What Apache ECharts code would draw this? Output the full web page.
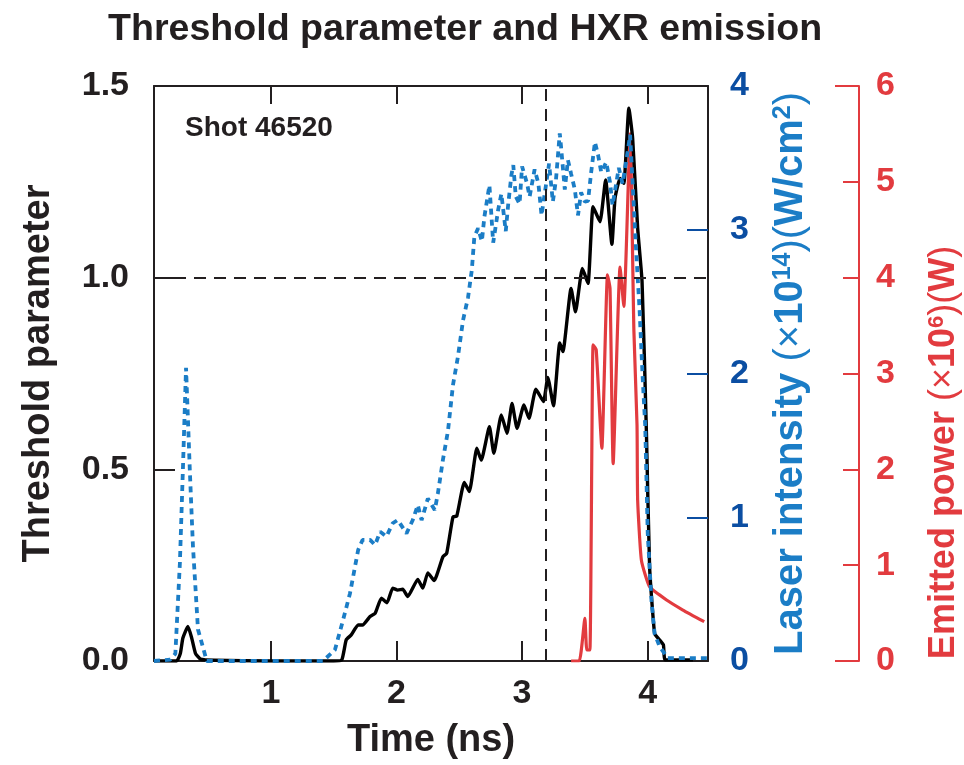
<!DOCTYPE html>
<html>
<head>
<meta charset="utf-8">
<script src="https://cdn.jsdelivr.net/npm/echarts@6/dist/echarts.min.js"></script>
<style>html,body{margin:0;padding:0;background:#fff}#c{width:964px;height:765px}</style>
</head>
<body>
<div id="c"></div>
<script>
// ---- data (time in ns) ----
const blackT = [0.07,0.25,0.28,0.30,0.34,0.37,0.40,0.44,0.55,1.0,1.50,1.565,1.60,1.64,1.695,1.73,1.79,1.83,1.88,1.925,1.97,2.01,2.05,2.09,2.17,2.21,2.25,2.30,2.37,2.40,2.45,2.48,2.54,2.58,2.64,2.675,2.74,2.775,2.835,2.88,2.92,2.96,3.015,3.055,3.11,3.17,3.205,3.25,3.30,3.325,3.39,3.425,3.48,3.525,3.565,3.62,3.665,3.715,3.74,3.78,3.81,3.85,3.88,3.92,3.955,3.99,4.015,4.055,4.095,4.125,4.14,4.36];
const blackV = [0.0,0.0,0.02,0.06,0.09,0.06,0.02,0.005,0.002,0.0,0.0,0.003,0.055,0.068,0.094,0.094,0.116,0.124,0.164,0.152,0.19,0.185,0.187,0.168,0.213,0.19,0.23,0.21,0.272,0.281,0.376,0.378,0.466,0.442,0.555,0.524,0.611,0.542,0.642,0.594,0.672,0.607,0.668,0.633,0.709,0.677,0.74,0.666,0.83,0.807,0.972,0.911,1.024,0.985,1.185,1.146,1.255,1.087,1.207,1.259,1.246,1.442,1.364,1.129,0.99,0.594,0.246,0.072,0.055,0.042,0.003,0.003];

const blueT = [0.07,0.20,0.24,0.276,0.30,0.325,0.355,0.38,0.42,0.49,1.0,1.415,1.51,1.575,1.63,1.67,1.695,1.73,1.79,1.83,1.87,1.92,1.97,2.01,2.08,2.13,2.17,2.20,2.25,2.305,2.33,2.37,2.41,2.45,2.49,2.53,2.57,2.60,2.62,2.65,2.68,2.70,2.74,2.77,2.81,2.835,2.87,2.89,2.915,2.93,2.95,2.98,3.00,3.04,3.06,3.10,3.13,3.155,3.19,3.215,3.245,3.27,3.30,3.31,3.34,3.365,3.39,3.42,3.445,3.47,3.50,3.525,3.55,3.58,3.605,3.63,3.67,3.70,3.72,3.77,3.80,3.84,3.86,3.885,3.91,3.935,3.96,3.98,4.00,4.03,4.055,4.095,4.16,4.48];
const blueV = [0.0,0.01,0.05,0.68,1.33,2.04,1.33,0.80,0.22,0.0,0.0,0.0,0.077,0.285,0.47,0.656,0.772,0.842,0.842,0.807,0.90,0.865,0.958,0.981,0.888,0.981,1.085,0.98,1.13,1.05,1.167,1.40,1.60,1.92,2.12,2.37,2.53,2.72,2.95,3.01,2.92,3.09,3.31,2.91,3.14,3.25,2.99,3.18,3.38,3.45,3.23,3.18,3.44,3.32,3.23,3.42,3.32,3.10,3.31,3.46,3.195,3.35,3.67,3.58,3.28,3.485,3.39,3.28,3.10,3.26,3.195,3.20,3.40,3.61,3.52,3.40,3.47,3.33,3.17,3.43,3.32,3.54,3.66,3.24,2.82,2.45,1.97,1.64,0.89,0.42,0.19,0.10,0.02,0.02];

const redT = [3.39,3.455,3.50,3.515,3.54,3.565,3.59,3.635,3.68,3.70,3.725,3.78,3.81,3.86,3.89,3.915,3.92,3.95,4.015,4.15,4.28,4.45];
const redV = [0.0,0.0,0.445,0.115,0.115,3.30,3.25,2.22,4.03,3.89,2.06,4.11,3.70,5.50,3.45,2.46,1.68,1.05,0.775,0.636,0.532,0.41];

const xTicks = [1,2,3,4];
const leftTicks = [0.5,1.0];
const blueTicks = [1,2,3];
const redTicks = [1,2,3,4,5];
const redEndTicks = [0,6];
const thresholdLevel = 1.0;
const markTime = 3.19;

const pairs = (a,b) => a.map((t,i)=>[t,b[i]]);

const FONT = '"Liberation Sans", Arial, Helvetica, sans-serif';
const DARK = '#231f20';
const BLUE_DARK = '#0b4ea2';
const BLUE = '#1b7dc6';
const RED = '#e23b3f';

const chart = echarts.init(document.getElementById('c'), null, {renderer:'canvas'});
const lbl = (color) => ({fontSize:34, fontWeight:'bold', color, fontFamily:FONT});
const richName = (color, fs) => ({
  b:{fontSize:fs, fontWeight:'bold', color, fontFamily:FONT},
  n:{fontSize:fs, fontWeight:'normal', color, fontFamily:FONT},
  s:{fontSize:Math.round(fs*0.62), fontWeight:'bold', color, fontFamily:FONT, verticalAlign:'top'}
});

chart.setOption({
  animation:false,
  backgroundColor:'#fff',
  textStyle:{fontFamily:FONT},
  title:{
    text:'Threshold parameter and HXR emission',
    left:103, top:6,
    textStyle:{fontSize:37.6, fontWeight:'bold', color:DARK, fontFamily:FONT}
  },
  graphic:[{
    type:'text', left:185, top:114,
    style:{text:'Shot 46520', font:'bold 28px "Liberation Sans", Arial, sans-serif', fill:DARK}
  }],
  grid:{left:154, right:256, top:86, bottom:104, containLabel:false, outerBoundsMode:'none'},
  xAxis:[{
    type:'value', position:'bottom', min:0.07, max:4.48,
    axisLine:{show:true, onZero:false, lineStyle:{color:DARK, width:2}},
    axisTick:{show:true, inside:true, length:20, customValues:xTicks, lineStyle:{color:DARK, width:2}},
    axisLabel:Object.assign({customValues:xTicks, margin:16}, lbl(DARK)),
    splitLine:{show:false},
    name:'Time (ns)', nameLocation:'middle', nameGap:61,
    nameTextStyle:{fontSize:38, fontWeight:'bold', color:DARK, fontFamily:FONT}
  },{
    type:'value', position:'top', min:0.07, max:4.48,
    axisLine:{show:true, onZero:false, lineStyle:{color:DARK, width:2}},
    axisTick:{show:true, inside:true, length:18, customValues:xTicks, lineStyle:{color:DARK, width:2}},
    axisLabel:{show:false}, splitLine:{show:false}
  }],
  yAxis:[{
    type:'value', position:'left', min:0, max:1.5, interval:0.5,
    axisLine:{show:true, onZero:false, lineStyle:{color:DARK, width:2}},
    axisTick:{show:true, inside:true, length:21, customValues:leftTicks, lineStyle:{color:DARK, width:2}},
    axisLabel:Object.assign({margin:25, formatter:v=>v.toFixed(1)}, lbl(DARK)),
    splitLine:{show:false},
    name:'Threshold parameter', nameLocation:'middle', nameGap:96, nameRotate:90,
    nameTextStyle:{fontSize:38, fontWeight:'bold', color:DARK, fontFamily:FONT}
  },{
    type:'value', position:'right', min:0, max:4, interval:1,
    axisLine:{show:true, onZero:false, lineStyle:{color:DARK, width:2}},
    axisTick:{show:true, inside:true, length:21, customValues:blueTicks, lineStyle:{color:BLUE_DARK, width:2}},
    axisLabel:Object.assign({margin:22}, lbl(BLUE_DARK)),
    splitLine:{show:false},
    name:'{b|Laser intensity }{n|(×}{b|10}{s|14}{n|)(}{b|W/cm}{s|2}{n|)}',
    nameLocation:'middle', nameGap:63, nameRotate:90,
    nameTextStyle:{color:BLUE, rich:richName(BLUE, 40)}
  },{
    type:'value', position:'right', offset:151, min:0, max:6, interval:1,
    axisLine:{show:true, onZero:false, lineStyle:{color:RED, width:2}},
    axisTick:{show:true, inside:true, length:16, customValues:redTicks, lineStyle:{color:RED, width:2}},
    axisLabel:Object.assign({margin:17}, lbl(RED)),
    splitLine:{show:false},
    name:'{b|Emitted power }{n|(×}{b|10}{s|6}{n|)(}{b|W}{n|)}',
    nameLocation:'middle', nameGap:67, nameRotate:90,
    nameTextStyle:{color:RED, padding:[0,158,0,0], rich:richName(RED, 36)}
  },{
    type:'value', position:'right', offset:151, min:0, max:6, interval:1,
    axisLine:{show:false},
    axisTick:{show:true, inside:true, length:24, customValues:redEndTicks, lineStyle:{color:RED, width:2}},
    axisLabel:{show:false}, splitLine:{show:false}
  }],
  series:[{
    name:'HXR', type:'line', xAxisIndex:0, yAxisIndex:2, data:pairs(redT, redV),
    showSymbol:false, symbol:'none', z:2, smooth:0.15,
    lineStyle:{color:RED, width:3.2, join:'round'}
  },{
    name:'Threshold', type:'line', xAxisIndex:0, yAxisIndex:0, data:pairs(blackT, blackV),
    showSymbol:false, symbol:'none', z:3, smooth:0.15,
    lineStyle:{color:'#000', width:3.4, join:'round'},
    markLine:{
      silent:true, symbol:'none', label:{show:false},
      lineStyle:{color:DARK, width:2, type:[12,8]},
      data:[{yAxis:thresholdLevel},{xAxis:markTime}]
    }
  },{
    name:'Laser', type:'line', xAxisIndex:0, yAxisIndex:1, data:pairs(blueT, blueV),
    showSymbol:false, symbol:'none', z:4,
    lineStyle:{color:BLUE, width:3.8, type:[6,5], cap:'butt'}
  }]
});
</script>
</body>
</html>
